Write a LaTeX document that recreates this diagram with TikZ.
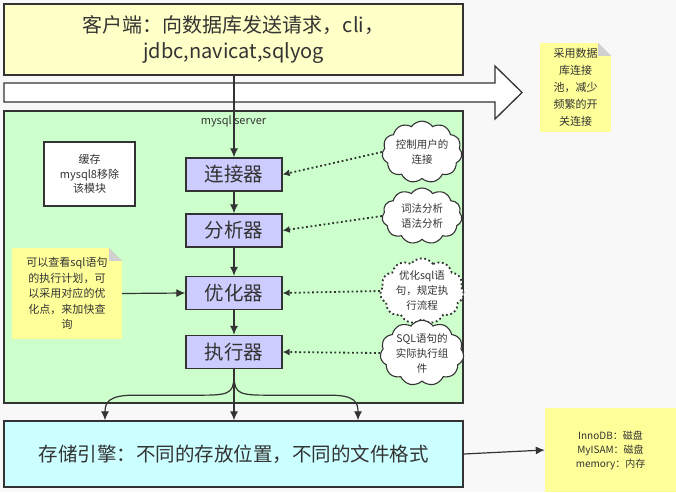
\documentclass[tikz,border=0pt]{standalone}
\usepackage{fontspec}
\setmainfont{Noto Sans CJK SC}
\usetikzlibrary{shapes.symbols,arrows.meta}
\definecolor{bgc}{HTML}{F8F8F8}
\definecolor{edge}{HTML}{333333}
\definecolor{topy}{HTML}{FFFFC8}
\definecolor{greenc}{HTML}{CCFFCC}
\definecolor{procc}{HTML}{CCCCFF}
\definecolor{storec}{HTML}{CCFFFF}
\definecolor{notec}{HTML}{FFFF99}
\definecolor{foldc}{HTML}{D0D0D0}
\definecolor{txt}{HTML}{333333}
\begin{document}
\begin{tikzpicture}[x=1pt,y=-1pt,
  box/.style={draw=edge,line width=1.3pt,inner sep=0pt,text=txt,align=center},
  proc/.style={box,fill=procc,minimum width=96pt,minimum height=33pt,font=\fontsize{19.5}{21}\selectfont},
  cld/.style={cloud,cloud puffs=11,cloud puff arc=110,aspect=1.4,draw=edge,line width=1.1pt,fill=white,
     inner sep=0pt,text=txt,align=center,font=\fontsize{10.5}{15}\selectfont},
  notebox/.style={fill=notec,inner sep=0pt,text=txt,align=center},
  arr/.style={draw=edge,line width=1.2pt,-{Latex[length=9pt,width=8pt]}},
  darr/.style={draw=edge,line width=1.8pt,dash pattern=on 1.8pt off 2.6pt,-{Latex[length=7pt,width=7pt]}},
]
\fill[bgc] (0,0) rectangle (676,492);
\useasboundingbox (0,0) rectangle (676,492);

% client
\node[box,fill=topy,minimum width=459pt,minimum height=71pt,font=\fontsize{20}{26}\selectfont] (client) at (233.5,39.5)
  {客户端：向数据库发送请求，cli，\\jdbc,navicat,sqlyog};

% big arrow
\draw[edge,line width=1.3pt,fill=white] (4,83) -- (495,83) -- (495,66) -- (522,92.5) -- (495,119) -- (495,102) -- (4,102) -- cycle;

% top right note
\node[notebox,minimum width=71pt,minimum height=89pt,font=\fontsize{11}{17}\selectfont] (note1) at (575.5,87.5)
  {采用数据\\库连接\\池，减少\\频繁的开\\关连接};
\fill[bgc] (note1.north east) -- ++(-13,0) -- ++(13,13) -- cycle;
\fill[foldc] (note1.north east) ++(-13,0) -- ++(13,13) -- ++(-13,0) -- cycle;

% server
\node[box,fill=greenc,minimum width=459pt,minimum height=292pt] (server) at (233.5,257) {};
\node[text=txt,font=\fontsize{11}{12}\selectfont,anchor=north] (srvlabel) at (233.5,112) {mysql server};

% cache
\node[box,fill=white,minimum width=91pt,minimum height=64pt,font=\fontsize{11}{14.5}\selectfont] (cache) at (89.5,174)
  {缓存\\mysql8移除\\该模块};

% processors
\node[proc] (con) at (234,174.5) {连接器};
\node[proc] (ana) at (234,230.5) {分析器};
\node[proc] (opt) at (234,293) {优化器};
\node[proc] (exe) at (234,352) {执行器};

% clouds
\node[cld,minimum width=80pt,minimum height=56pt] (c1) at (422,152) {控制用户的\\连接};
\node[cld,minimum width=80pt,minimum height=56pt] (c2) at (422,216) {词法分析\\语法分析};
\node[cld,minimum width=82pt,minimum height=60pt,line width=1.8pt,dash pattern=on 1.8pt off 2.6pt] (c3) at (422,291) {优化sql语\\句，规定执\\行流程};
\node[cld,minimum width=82pt,minimum height=60pt] (c4) at (422,353) {SQL语句的\\实际执行组\\件};

% left note
\node[notebox,minimum width=110pt,minimum height=91pt,font=\fontsize{11}{15.5}\selectfont] (note2) at (67,293.5)
  {可以查看sql语句\\的执行计划，可\\以采用对应的优\\化点，来加快查\\询};
\fill[greenc] (note2.north east) -- ++(-13,0) -- ++(13,13) -- cycle;
\fill[foldc] (note2.north east) ++(-13,0) -- ++(13,13) -- ++(-13,0) -- cycle;

% store
\node[box,fill=storec,minimum width=459pt,minimum height=66pt,font=\fontsize{19.5}{21}\selectfont] (store) at (233.5,454)
  {存储引擎：不同的存放位置，不同的文件格式};

% bottom right note
\node[notebox,minimum width=131pt,minimum height=84pt,font=\fontsize{10}{14}\selectfont] (note3) at (610.5,450)
  {InnoDB：磁盘\\MyISAM：磁盘\\memory：内存};

% connectors
\draw[arr] (client.south -| con.north) -- (con.north);
\draw[arr] (con) -- (ana);
\draw[arr] (ana) -- (opt);
\draw[arr] (opt) -- (exe);
\draw[darr] (c1.west) -- (con.east);
\draw[darr] (c2.west) -- (ana.east);
\draw[darr] (c3.west) -- (opt.east);
\draw[darr] (c4.west) -- (exe.east);
\draw[arr] (note2.east) -- (opt.west);
\draw[arr] (exe.south) -- (exe.south |- store.north);
\draw[arr] (exe.south) .. controls +(0,22) and +(30,0) .. ++(-30,26) -- ++(-70,0) .. controls +(-25,0) and +(0,-18) .. ([xshift=-128.5pt]store.north);
\draw[arr] (exe.south) .. controls +(0,22) and +(-30,0) .. ++(30,26) -- ++(66,0) .. controls +(25,0) and +(0,-18) .. ([xshift=124.5pt]store.north);
\draw[arr] (store.east) -- (note3.west);
\end{tikzpicture}
\end{document}
